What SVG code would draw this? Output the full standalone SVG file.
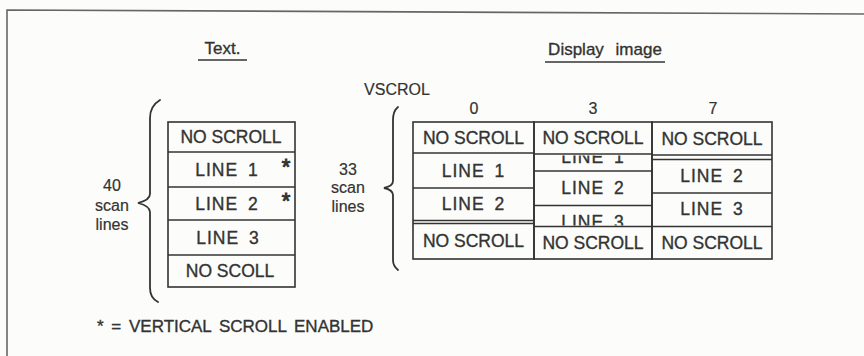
<svg xmlns="http://www.w3.org/2000/svg" width="864" height="356" viewBox="0 0 864 356">
<style>
  text { font-family: "Liberation Sans", Arial, sans-serif; fill: #333; stroke: #333; stroke-width: 0.35px; }
  .cell { font-size: 17.5px; text-anchor: middle; }
  .ln { letter-spacing: 1px; word-spacing: 4px; }
  .lbl { font-size: 16px; text-anchor: middle; stroke-width: 0.2px; }
  .hdr { font-size: 17px; text-anchor: middle; }
  .star { font-size: 22px; text-anchor: middle; stroke-width: 1px; }
  .box { fill: none; stroke: #333; stroke-width: 1.6; }
  .rule { stroke: #333; stroke-width: 1.5; }
  .brace { fill: none; stroke: #333; stroke-width: 1.8; stroke-linecap: round; }
  .frame { fill: none; stroke: #666; stroke-width: 1.6; }
</style>
<defs>
  <clipPath id="clipL1"><rect x="535" y="155.5" width="117" height="15"/></clipPath>
  <clipPath id="clipL3"><rect x="535" y="206.5" width="117" height="19"/></clipPath>
</defs>
<rect x="0" y="0" width="864" height="356" fill="#fcfdfa"/>
<path class="frame" d="M7,356 L7,10 L864,14"/>

<g id="headers">
  <text class="hdr" x="222.5" y="54">Text.</text>
  <line class="rule" x1="198" y1="60" x2="247" y2="60" stroke-width="2"/>
  <text class="hdr" x="605" y="55" style="word-spacing:7px">Display image</text>
  <line class="rule" x1="545" y1="62" x2="665" y2="62"/>
</g>

<g id="text-table">
  <rect class="box" x="168" y="122" width="127" height="165"/>
  <line class="rule" x1="168" y1="152" x2="295" y2="152"/>
  <line class="rule" x1="168" y1="187" x2="295" y2="187"/>
  <line class="rule" x1="168" y1="220" x2="295" y2="220"/>
  <line class="rule" x1="168" y1="255" x2="295" y2="255"/>
  <text class="cell" x="231" y="143">NO SCROLL</text>
  <text class="cell ln" x="227" y="176">LINE 1</text>
  <text class="cell ln" x="227" y="210">LINE 2</text>
  <text class="cell ln" x="228" y="244">LINE 3</text>
  <text class="cell" x="230" y="277">NO SCOLL</text>
  <text class="star" x="286" y="174">*</text>
  <text class="star" x="286" y="208">*</text>
</g>

<g id="left-brace">
  <path class="brace" d="M160,100 Q150,106 150,118 L150,194 Q150,200 138,203 Q150,206 150,212 L150,288 Q150,298 158,302"/>
  <text class="lbl" x="112" y="191">40</text>
  <text class="lbl" x="112" y="211">scan</text>
  <text class="lbl" x="112" y="230">lines</text>
</g>

<g id="vscrol-label">
  <text class="lbl" x="397" y="95">VSCROL</text>
  <text class="lbl" x="474" y="114">0</text>
  <text class="lbl" x="593" y="114">3</text>
  <text class="lbl" x="713" y="114">7</text>
</g>

<g id="right-brace">
  <path class="brace" d="M398,107 Q393,111 393,120 L393,181 Q393,186 384,188 Q393,190 393,195 L393,260 Q393,266 398,270"/>
  <text class="lbl" x="348" y="175">33</text>
  <text class="lbl" x="348" y="193">scan</text>
  <text class="lbl" x="348" y="212">lines</text>
</g>

<g id="display-col-0">
  <rect class="box" x="413" y="122" width="121" height="137"/>
  <line class="rule" x1="413" y1="153" x2="534" y2="153"/>
  <line class="rule" x1="413" y1="188" x2="534" y2="188"/>
  <line class="rule" x1="413" y1="220.5" x2="534" y2="220.5"/>
  <line class="rule" x1="413" y1="223.5" x2="534" y2="223.5"/>
  <text class="cell" x="473.5" y="144">NO SCROLL</text>
  <text class="cell ln" x="473.5" y="177">LINE 1</text>
  <text class="cell ln" x="473.5" y="210">LINE 2</text>
  <text class="cell" x="473.5" y="247">NO SCROLL</text>
</g>

<g id="display-col-3">
  <rect class="box" x="534" y="122" width="118" height="137"/>
  <line class="rule" x1="534" y1="154" x2="652" y2="154"/>
  <line class="rule" x1="534" y1="171" x2="652" y2="171"/>
  <line class="rule" x1="534" y1="205.5" x2="652" y2="205.5"/>
  <line class="rule" x1="534" y1="226.5" x2="652" y2="226.5"/>
  <text class="cell" x="593" y="144">NO SCROLL</text>
  <text class="cell ln" x="593" y="163" clip-path="url(#clipL1)">LINE 1</text>
  <text class="cell ln" x="593" y="194">LINE 2</text>
  <text class="cell ln" x="593" y="228" clip-path="url(#clipL3)">LINE 3</text>
  <text class="cell" x="593" y="249">NO SCROLL</text>
</g>

<g id="display-col-7">
  <rect class="box" x="652" y="122" width="120" height="137"/>
  <line class="rule" x1="652" y1="155" x2="772" y2="155"/>
  <line class="rule" x1="652" y1="159.5" x2="772" y2="159.5"/>
  <line class="rule" x1="652" y1="193" x2="772" y2="193"/>
  <line class="rule" x1="652" y1="226.5" x2="772" y2="226.5"/>
  <text class="cell" x="712" y="145">NO SCROLL</text>
  <text class="cell ln" x="712" y="182">LINE 2</text>
  <text class="cell ln" x="712" y="215">LINE 3</text>
  <text class="cell" x="712" y="249">NO SCROLL</text>
</g>

<g id="connectors"></g>

<g id="footnote">
  <text x="97" y="332" style="font-size:17px; word-spacing:3px">* = VERTICAL SCROLL ENABLED</text>
</g>
</svg>
